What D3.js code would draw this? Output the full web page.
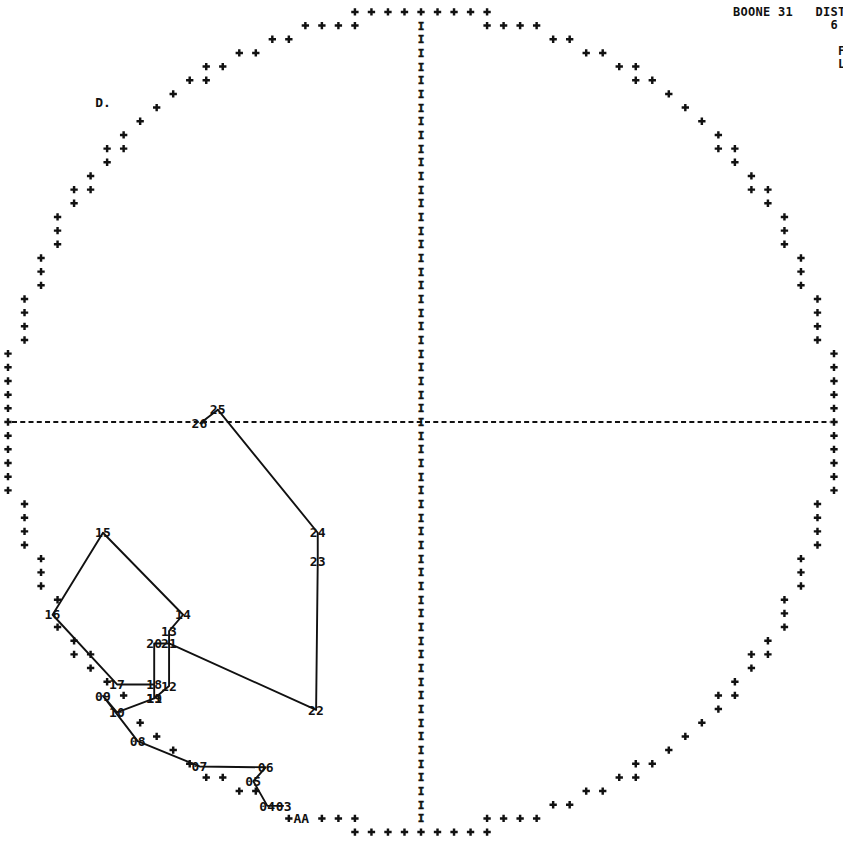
<!DOCTYPE html>
<html>
<head>
<meta charset="utf-8">
<script src="https://cdn.jsdelivr.net/npm/d3@7"></script>
<style>
  html, body { margin: 0; background: #fff; }
  svg { display: block; }
  text { font-family: "DejaVu Sans Mono", "Liberation Mono", monospace; font-weight: bold; fill: #111; }
</style>
</head>
<body>
<svg id="chart" width="843" height="847"></svg>
<script>
// Hodograph of winds by level: u (east) and v (north) components, plot units.
const levels  = ["03","04","05","06","07","08","09","10","11","12","13","14",
                 "15","16","17","18","19","20","21","22","23","24","25","26"];
const uValues = [-16.6,-18.6,-20.3,-18.8,-26.8,-34.3,-38.5,-36.8,-32.3,-30.5,-30.5,-28.8,
                 -38.5,-44.6,-36.8,-32.3,-32.3,-32.3,-30.5,-12.7,-12.5,-12.5,-24.6,-26.8];
const vValues = [-46.8,-46.8,-43.8,-42.1,-42.0,-38.9,-33.4,-35.4,-33.7,-32.2,-25.5,-23.5,
                 -13.5,-23.5,-32.0,-32.0,-33.7,-27.0,-27.0,-35.1,-17.0,-13.5, 1.5,-0.2];

// Outer reference ring radius and plot extent (plot units)
const ringRadius = 50;
const axisDomain = [-50, 50];

// Extra printed annotations: text, u, v, and whether a "+" precedes it
const noteTexts  = ["AA", "D."];
const noteU      = [-14.5, -38.5];
const noteV      = [-48.33, 39.0];
const noteMarker = [true, false];

// Header block at the upper right
const headerLines = ["BOONE 31   DIST", "             6", "", "              F", "              L"];

// Line-printer cell grid: 50 columns and 30 lines to the ring
const cols = 50, rows = 30;
const cx = 421, cy = 422, colW = 8.26, rowH = 13.67;
const ringBand = [0.978, 1.015];

const svg = d3.select("#chart");

const x = d3.scaleLinear().domain(axisDomain).range([cx - cols * colW, cx + cols * colW]);
const y = d3.scaleLinear().domain(axisDomain).range([cy + rows * rowH, cy - rows * rowH]);
const unitPerCol = ringRadius / cols, unitPerRow = ringRadius / rows;

const pts = levels.map((l, i) => ({ level: l, u: uValues[i], v: vValues[i] }));
const notes = noteTexts.map((t, i) => ({ text: t, u: noteU[i], v: noteV[i], mark: noteMarker[i] }));

// Printed labels take over the cells they sit on
const labelBoxes = pts.concat(notes).map(d => [x(d.u), y(d.v)]);
const covered = (px, py) => labelBoxes.some(([lx, ly]) => Math.abs(px - lx) < 9 && Math.abs(py - ly) < 7);

// Ring of "+" marks: every other print column, cells lying on the ring
const ring = [];
for (let c = -cols; c <= cols; c += 2) {
  for (let r = -rows; r <= rows; r++) {
    const rho = Math.hypot(c / cols, r / rows);
    if (rho >= ringBand[0] && rho <= ringBand[1]) ring.push([c * unitPerCol, r * unitPerRow]);
  }
}
const ringShown = ring.filter(d => !covered(x(d[0]), y(d[1])));
const noteMarks = notes.filter(d => d.mark).map(d => [d.u - 1.5 * unitPerCol, d.v]);

svg.append("g").selectAll("path")
  .data(ringShown.concat(noteMarks))
  .join("path")
  .attr("transform", d => `translate(${x(d[0])},${y(d[1])})`)
  .attr("d", d3.symbol(d3.symbolCross, 30))
  .attr("fill", "#111");

// Horizontal axis: dashed line across the ring
svg.append("line")
  .attr("x1", x(-ringRadius) + 4).attr("x2", x(ringRadius) - 4)
  .attr("y1", y(0)).attr("y2", y(0))
  .attr("stroke", "#111").attr("stroke-width", 2)
  .attr("stroke-dasharray", "5,3.26");

// Vertical axis: a column of printed "I"
const iRows = d3.range(-rows + 1, rows);
svg.append("g").selectAll("text")
  .data(iRows)
  .join("text")
  .attr("x", x(0)).attr("y", r => y(r * unitPerRow))
  .attr("dy", "0.36em")
  .attr("text-anchor", "middle")
  .attr("font-size", 11)
  .attr("stroke", "#111").attr("stroke-width", 0.5)
  .text("I");

// Hodograph path
svg.append("path")
  .datum(pts)
  .attr("fill", "none")
  .attr("stroke", "#111")
  .attr("stroke-width", 1.9)
  .attr("stroke-linejoin", "round")
  .attr("d", d3.line().x(d => x(d.u)).y(d => y(d.v)));

// Level labels
svg.append("g").selectAll("text")
  .data(pts)
  .join("text")
  .attr("x", d => x(d.u)).attr("y", d => y(d.v))
  .attr("dy", "0.36em")
  .attr("text-anchor", "middle")
  .attr("font-size", 13)
  .attr("letter-spacing", 0.2)
  .text(d => d.level);

// Annotations
svg.append("g").selectAll("text")
  .data(notes)
  .join("text")
  .attr("x", d => x(d.u)).attr("y", d => y(d.v))
  .attr("dy", "0.36em")
  .attr("text-anchor", "middle")
  .attr("font-size", 13)
  .text(d => d.text);

// Header
svg.append("g").selectAll("text")
  .data(headerLines)
  .join("text")
  .attr("x", 733).attr("y", (d, i) => 11.5 + i * 13)
  .attr("dy", "0.36em")
  .attr("font-size", 12)
  .attr("letter-spacing", 0.28)
  .style("white-space", "pre")
  .text(d => d);
</script>
</body>
</html>
